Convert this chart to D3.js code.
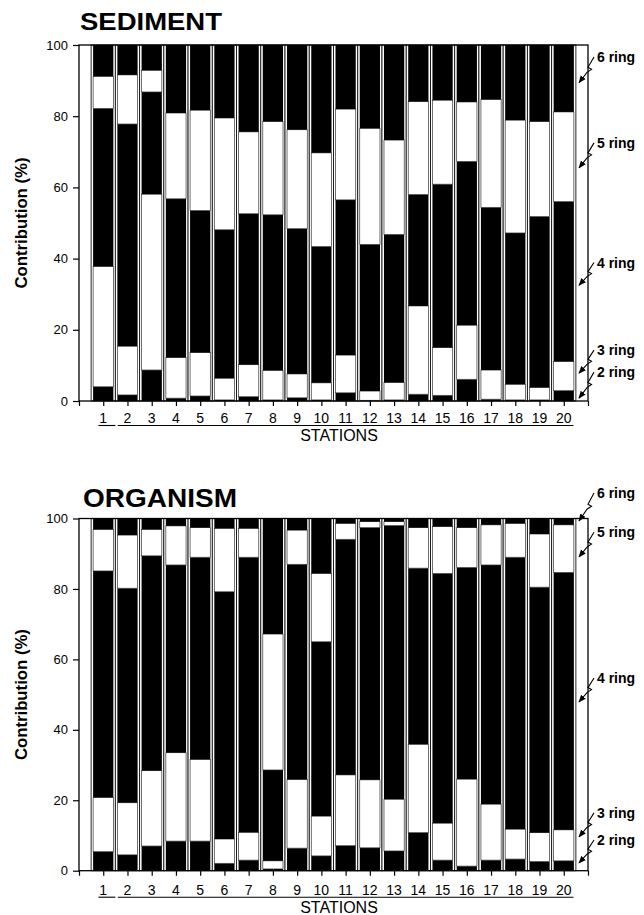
<!DOCTYPE html>
<html>
<head>
<meta charset="utf-8">
<script src="https://cdnjs.cloudflare.com/ajax/libs/d3/7.8.5/d3.min.js"></script>
<style>
	body { margin: 0; background: #fff; }
	svg { display: block; font-family: "Liberation Sans", Arial, sans-serif; }
</style>
</head>
<body>
<svg id="chart" width="644" height="915"></svg>
<script>
// stations along the x axis
var stations = [1, 2, 3, 4, 5, 6, 7, 8, 9, 10, 11, 12, 13, 14, 15, 16, 17, 18, 19, 20];
var yTicks = [0, 20, 40, 60, 80, 100];
var ringKeys = ['ring2', 'ring3', 'ring4', 'ring5', 'ring6'];
var ringNames = ['2 ring', '3 ring', '4 ring', '5 ring', '6 ring'];

// SEDIMENT, contribution (%) of each ring class
var sediment2 = [4.0, 1.7, 8.7, 0.8, 1.4, 0.3, 1.2, 0.3, 0.9, 0.3, 2.3, 0.2, 0.3, 1.9, 1.6, 6.1, 0.5, 0.3, 0.3, 2.9];
var sediment3 = [33.8, 13.7, 49.4, 11.4, 12.2, 6.1, 9.0, 8.3, 6.7, 4.8, 10.6, 2.6, 4.9, 24.8, 13.4, 15.2, 8.2, 4.4, 3.5, 8.2];
var sediment4 = [44.4, 62.4, 28.7, 44.6, 39.9, 41.7, 42.4, 43.7, 40.8, 38.3, 43.6, 41.2, 41.6, 31.3, 45.9, 46.0, 45.7, 42.5, 48.0, 44.9];
var sediment5 = [9.0, 13.8, 6.1, 24.1, 28.2, 31.4, 23.0, 26.2, 27.8, 26.3, 25.5, 32.6, 26.5, 26.1, 23.6, 16.7, 30.3, 31.7, 26.7, 25.2];
var sediment6 = [8.8, 8.4, 7.1, 19.1, 18.3, 20.5, 24.4, 21.5, 23.8, 30.3, 18.0, 23.4, 26.7, 15.9, 15.5, 16.0, 15.3, 21.1, 21.5, 18.8];

// ORGANISM
var organism2 = [5.4, 4.5, 7.0, 8.4, 8.4, 2.1, 3.0, 0.5, 6.4, 4.2, 7.1, 6.5, 5.6, 10.8, 3.0, 1.3, 3.0, 3.3, 2.6, 2.8];
var organism3 = [15.4, 14.8, 21.4, 25.1, 23.2, 6.9, 7.9, 2.3, 19.5, 11.3, 20.1, 19.3, 14.7, 25.1, 10.5, 24.7, 15.9, 8.5, 8.2, 8.8];
var organism4 = [64.3, 60.9, 61.0, 53.3, 57.4, 70.2, 78.1, 25.8, 61.1, 49.5, 66.9, 71.6, 77.7, 50.0, 70.9, 60.1, 67.9, 77.2, 69.7, 73.1];
var organism5 = [11.8, 15.1, 7.5, 11.1, 8.4, 18.0, 8.2, 38.6, 9.7, 19.4, 4.5, 1.7, 1.1, 11.5, 13.3, 11.3, 11.4, 9.6, 15.1, 13.5];
var organism6 = [3.1, 4.7, 3.1, 2.1, 2.6, 2.8, 2.8, 32.8, 3.3, 15.6, 1.4, 0.9, 0.9, 2.6, 2.3, 2.6, 1.8, 1.4, 4.4, 1.8];

var panels = (function() {

	var svg = d3.select('#chart');

	var x = d3.scaleLinear().domain([0, 21]).range([79, 588]);
	var step = x(1) - x(0);
	var inset = 2;

	var init = function() {

		svg.append('defs').append('marker')
			.attr('id', 'head')
			.attr('viewBox', '0 0 10 10')
			.attr('refX', 9).attr('refY', 5)
			.attr('markerWidth', 7).attr('markerHeight', 7)
			.attr('orient', 'auto')
			.append('path')
				.attr('d', 'M0,1 L10,5 L0,9 Z')
				.attr('fill', '#000');

		drawPanel({
			title: 'SEDIMENT', titleX: 80, titleY: 30, titleSize: 23, titleLen: 142,
			y0: 401, y100: 45,
			numY: 22, statY: 40,
			series: [sediment2, sediment3, sediment4, sediment5, sediment6],
			notes: [[6.7, 0.8], [12.9, 7.8], [37.5, 32.5], [71.1, 65.5], [95.2, 89.4]]
		});

		drawPanel({
			title: 'ORGANISM', titleX: 83, titleY: 507, titleSize: 25, titleLen: 154,
			y0: 870.7, y100: 518.5,
			numY: 24, statY: 42,
			series: [organism2, organism3, organism4, organism5, organism6],
			notes: [[7.3, 2.2], [15.0, 9.6], [53.3, 47.9], [94.7, 89.1], [105.8, 99.3]]
		});
	};

	var drawPanel = function(cfg) {

		var y = d3.scaleLinear().domain([0, 100]).range([cfg.y0, cfg.y100]);
		var g = svg.append('g');

		var rows = stations.map(function(s, i) {
			var row = { station: s };
			ringKeys.forEach(function(k, j) { row[k] = cfg.series[j][i]; });
			return row;
		});
		var layers = d3.stack().keys(ringKeys)(rows);

		// title
		g.append('text')
			.attr('x', cfg.titleX).attr('y', cfg.titleY)
			.attr('font-size', cfg.titleSize).attr('font-weight', 'bold')
			.attr('textLength', cfg.titleLen).attr('lengthAdjust', 'spacingAndGlyphs')
			.text(cfg.title);

		// one outlined column per station
		g.selectAll('rect.col')
			.data(stations)
			.enter()
				.append('rect')
				.attr('class', 'col')
				.attr('x', function(d) { return x(d - 0.5); })
				.attr('width', step)
				.attr('y', y(100))
				.attr('height', y(0) - y(100))
				.attr('fill', '#fff')
				.attr('stroke', '#111')
				.attr('stroke-width', 0.9);

		// stacked ring segments, black and white in turn
		g.selectAll('g.layer')
			.data(layers)
			.enter()
				.append('g')
				.attr('class', 'layer')
				.each(function(layer, li) {
					var dark = li % 2 === 0;
					d3.select(this).selectAll('rect')
						.data(layer)
						.enter()
							.append('rect')
							.attr('x', function(d) { return x(d.data.station - 0.5) + inset; })
							.attr('width', step - inset * 2)
							.attr('y', function(d) { return y(d[1]); })
							.attr('height', function(d) { return y(d[0]) - y(d[1]); })
							.attr('fill', dark ? '#000' : '#fff')
							.attr('stroke', dark ? 'none' : '#333')
							.attr('stroke-width', 0.7);
				});

		// frame
		g.append('rect')
			.attr('x', x(0)).attr('y', y(100))
			.attr('width', x(21) - x(0)).attr('height', y(0) - y(100))
			.attr('fill', 'none')
			.attr('stroke', '#000')
			.attr('stroke-width', 1.3);

		// y axis
		var yAxis = g.append('g')
			.attr('transform', 'translate(' + x(0) + ',0)')
			.call(d3.axisLeft(y).tickValues(yTicks).tickSize(6).tickSizeOuter(0).tickPadding(5));
		yAxis.select('.domain').remove();
		yAxis.selectAll('text').attr('font-size', 13).attr('font-family', null).attr('fill', '#000');
		yAxis.selectAll('line').attr('stroke', '#000').attr('stroke-width', 1.2);

		// x ticks
		var xAxis = g.append('g')
			.attr('transform', 'translate(0,' + y(0) + ')')
			.call(d3.axisBottom(x).tickValues(d3.range(0, 22)).tickSize(5).tickSizeOuter(0).tickFormat(''));
		xAxis.select('.domain').remove();
		xAxis.selectAll('line').attr('stroke', '#000').attr('stroke-width', 1.2);

		// station numbers
		g.selectAll('text.num')
			.data(stations)
			.enter()
				.append('text')
				.attr('class', 'num')
				.attr('x', function(d) { return x(d); })
				.attr('y', y(0) + cfg.numY)
				.attr('text-anchor', 'middle')
				.attr('font-size', 14)
				.text(function(d) { return d; });

		// underlines below the numbers
		var under = [[0.8, 1.5], [1.6, 20.4]];
		g.selectAll('line.under')
			.data(under)
			.enter()
				.append('line')
				.attr('x1', function(d) { return x(d[0]); })
				.attr('x2', function(d) { return x(d[1]); })
				.attr('y1', y(0) + cfg.numY + 2.5)
				.attr('y2', y(0) + cfg.numY + 2.5)
				.attr('stroke', '#000')
				.attr('stroke-width', 1.1);

		g.append('text')
			.attr('x', 339).attr('y', y(0) + cfg.statY)
			.attr('text-anchor', 'middle')
			.attr('font-size', 16)
			.text('STATIONS');

		g.append('text')
			.attr('transform', 'translate(27,' + ((y(0) + y(100)) / 2) + ') rotate(-90)')
			.attr('text-anchor', 'middle')
			.attr('font-size', 16).attr('font-weight', 'bold')
			.attr('textLength', 131).attr('lengthAdjust', 'spacingAndGlyphs')
			.text('Contribution (%)');

		// ring labels with zigzag arrows
		cfg.notes.forEach(function(n, i) {
			var ly = y(n[0]);
			var sx = 594, sy = ly - 5;
			var tx = 579, ty = y(n[1]);
			var dx = tx - sx, dy = ty - sy;
			var p1 = [sx + dx * 0.4, sy + dy * 0.4];
			var p2 = [p1[0] + 3.5, p1[1] + 2];
			var p3 = [p2[0] - 4.5, p2[1] + 3];
			g.append('path')
				.attr('d', 'M' + sx + ',' + sy + 'L' + p1 + 'L' + p2 + 'L' + p3 + 'L' + tx + ',' + ty)
				.attr('fill', 'none')
				.attr('stroke', '#000')
				.attr('stroke-width', 1.1)
				.attr('marker-end', 'url(#head)');
			g.append('text')
				.attr('x', 597).attr('y', ly)
				.attr('font-size', 14).attr('font-weight', 'bold')
				.text(ringNames[i]);
		});
	};

	return {
		'init': init
	};

})();

panels.init();
</script>
</body>
</html>
